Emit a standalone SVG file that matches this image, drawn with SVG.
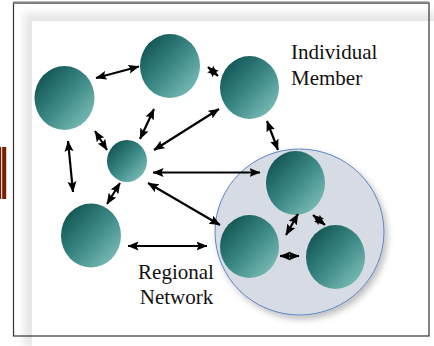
<svg xmlns="http://www.w3.org/2000/svg" width="434" height="346" viewBox="0 0 434 346">
<defs>
<linearGradient id="teal" x1="0" y1="0" x2="1" y2="1">
<stop offset="0" stop-color="#064646"/>
<stop offset="0.5" stop-color="#3a8784"/>
<stop offset="1" stop-color="#8ccac4"/>
</linearGradient>
<filter id="blur" x="-10%" y="-10%" width="120%" height="120%"><feGaussianBlur stdDeviation="4"/></filter>
<filter id="shadow" x="-20%" y="-20%" width="140%" height="140%"><feDropShadow dx="3" dy="4" stdDeviation="3" flood-color="#000" flood-opacity="0.25"/></filter>
<marker id="ah" viewBox="0 -5 11 10" refX="10.5" refY="0" markerWidth="11" markerHeight="10" markerUnits="userSpaceOnUse" orient="auto-start-reverse">
<path d="M0,-4.5 L11,0 L0,4.5 L2,0 z" fill="#000"/>
</marker>
<style>
.node{fill:url(#teal)}
.lbl{font-family:"Liberation Serif","Times New Roman",serif;font-size:21px;fill:#111}
.con line{stroke:#000;stroke-width:2.2;marker-start:url(#ah);marker-end:url(#ah)}
</style>
</defs>
<rect width="434" height="346" fill="#fff"/>
<rect x="0" y="147" width="1.2" height="52" fill="#7a1e00"/>
<rect x="2.2" y="147" width="4" height="52" fill="#7a1e00"/>
<rect x="24" y="13" width="415" height="335" fill="#e6e6e6" filter="url(#blur)"/>
<rect x="32" y="21" width="402" height="325" fill="#fff"/>
<rect x="13.5" y="3" width="415.5" height="333" fill="none" stroke="#333" stroke-width="1.2"/>
<line x1="13" y1="2.5" x2="429" y2="2.5" stroke="#808080" stroke-width="2"/>
<g id="region"><ellipse cx="299.5" cy="232" rx="84.5" ry="83" fill="#d7dbe3" stroke="#5a86c8" stroke-width="1" filter="url(#shadow)"/></g>
<g id="n1"><ellipse class="node" cx="64.5" cy="98" rx="30" ry="32"/></g>
<g id="n2"><ellipse class="node" cx="170" cy="66" rx="30" ry="32"/></g>
<g id="n3"><ellipse class="node" cx="249.5" cy="87.5" rx="29.5" ry="31.5"/></g>
<g id="n4"><ellipse class="node" cx="127" cy="161" rx="20" ry="21"/></g>
<g id="n5"><ellipse class="node" cx="91" cy="235.5" rx="30" ry="32"/></g>
<g id="n7"><ellipse class="node" cx="295.5" cy="183" rx="29.5" ry="32"/></g>
<g id="n8"><ellipse class="node" cx="249.5" cy="246.5" rx="29.5" ry="31.5"/></g>
<g id="n9"><ellipse class="node" cx="335.5" cy="257" rx="29.5" ry="32"/></g>
<g id="connectors" class="con">
<line x1="96" y1="78" x2="139" y2="66.5"/>
<line x1="208" y1="67" x2="218" y2="76"/>
<line x1="154" y1="109" x2="140" y2="139"/>
<line x1="95" y1="131" x2="107" y2="150"/>
<line x1="219" y1="109" x2="154" y2="150"/>
<line x1="267" y1="121" x2="278" y2="150"/>
<line x1="68" y1="141" x2="73" y2="192"/>
<line x1="153" y1="172.5" x2="260" y2="172.5"/>
<line x1="120" y1="183" x2="107" y2="204"/>
<line x1="148" y1="183" x2="220" y2="225"/>
<line x1="128" y1="246" x2="207" y2="246"/>
<line x1="298" y1="214" x2="286" y2="235"/>
<line x1="313" y1="215" x2="325" y2="225"/>
<line x1="280" y1="256" x2="299" y2="256"/>
</g>
<g id="labels">
<text class="lbl" x="291" y="59">Individual</text>
<text class="lbl" x="291" y="85">Member</text>
<text class="lbl" x="176" y="279" text-anchor="middle">Regional</text>
<text class="lbl" x="176.5" y="304" text-anchor="middle">Network</text>
</g>
</svg>
